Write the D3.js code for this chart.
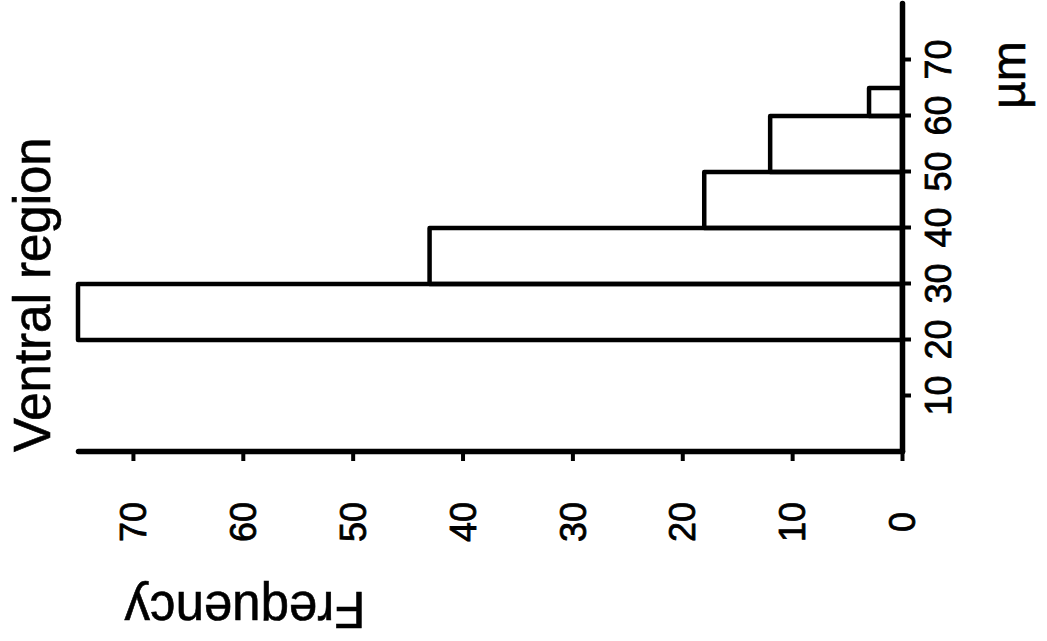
<!DOCTYPE html>
<html>
<head>
<meta charset="utf-8">
<script src="https://cdn.jsdelivr.net/npm/d3@7"></script>
<style>
    body { margin: 0; background: #fff; }
    svg { display: block; }
</style>
</head>
<body>
<div id="chart"></div>
<script>

// histogram bins (µm) and counts
var binStart = [20, 30, 40, 50, 60];
var binEnd = [30, 40, 50, 60, 65];
var frequency = [75, 43, 18, 12, 3];

var umTicks = [10, 20, 30, 40, 50, 60, 70];
var freqTicks = [0, 10, 20, 30, 40, 50, 60, 70];

var width = 1047,
    height = 641;

var svg = d3.select("#chart")
    .append("svg")
    .attr("width", width)
    .attr("height", height)
    .style("background", "#fff");

// the whole figure is printed turned a quarter turn, so draw it upright and rotate
var g = svg.append("g")
    .attr("transform", "translate(0,452) rotate(-90)");

var x = d3.scaleLinear()
    .domain([0, 80])
    .range([0, 448]);

var y = d3.scaleLinear()
    .domain([0, 75])
    .range([902, 78]);

var data = binStart.map(function (d, i) {
    return {x0: d, x1: binEnd[i], n: frequency[i]};
});

g.selectAll("rect.bin")
    .data(data)
    .enter().append("rect")
    .attr("class", "bin")
    .attr("x", function (d) { return x(d.x0); })
    .attr("y", function (d) { return y(d.n); })
    .attr("width", function (d) { return x(d.x1) - x(d.x0); })
    .attr("height", function (d) { return y(0) - y(d.n); })
    .style("fill", "none")
    .style("stroke", "#000")
    .style("stroke-width", 4.5)
    .style("stroke-linejoin", "round");

var xAxis = g.append("g")
    .attr("transform", "translate(0," + y(0) + ")")
    .call(d3.axisBottom(x).tickValues(umTicks).tickSize(9).tickSizeOuter(0));

xAxis.selectAll("text")
    .attr("y", 36)
    .attr("dy", "0.35em");

var yAxis = g.append("g")
    .call(d3.axisLeft(y).tickValues(freqTicks).tickSize(9).tickSizeOuter(0));

yAxis.selectAll("text")
    .attr("x", -70)
    .attr("dy", "0.35em")
    .attr("text-anchor", "middle");

g.selectAll(".domain")
    .style("stroke", "#000")
    .style("stroke-width", 5.5)
    .style("stroke-linecap", "round");

g.selectAll(".tick line")
    .style("stroke", "#000")
    .style("stroke-width", 4);

g.selectAll(".tick text")
    .style("font-family", "'Liberation Sans Narrow', 'Liberation Sans', sans-serif")
    .style("font-size", "36px")
    .style("fill", "#000")
    .style("stroke", "#000")
    .style("stroke-width", 0.8);

// labels
g.append("text")
    .attr("x", 0)
    .attr("y", 50)
    .text("Ventral region")
    .style("font-family", "'Liberation Sans', sans-serif")
    .style("font-size", "51px")
    .style("fill", "#000")
    .style("stroke", "#000")
    .style("stroke-width", 0.6);

g.append("text")
    .attr("transform", "translate(-140,245) rotate(-90)")
    .attr("text-anchor", "middle")
    .text("Frequency")
    .style("font-family", "'Liberation Sans', sans-serif")
    .style("font-size", "51px")
    .style("fill", "#000")
    .style("stroke", "#000")
    .style("stroke-width", 0.6);

g.append("text")
    .attr("x", 343)
    .attr("y", 1025)
    .text("µm")
    .style("font-family", "'Liberation Sans', sans-serif")
    .style("font-size", "48px")
    .style("fill", "#000")
    .style("stroke", "#000")
    .style("stroke-width", 0.6);

</script>
</body>
</html>
